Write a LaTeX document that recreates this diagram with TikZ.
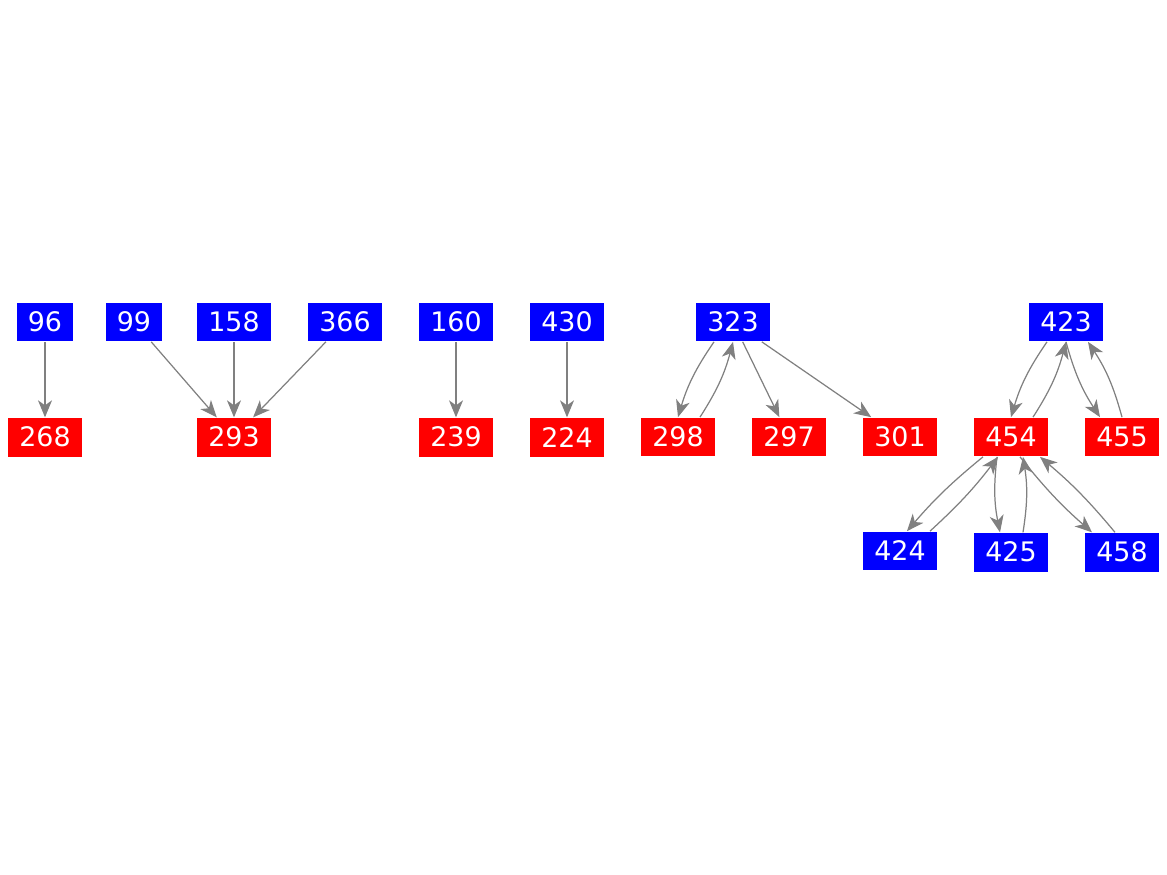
\documentclass[tikz,border=0pt]{standalone}
\usepackage{fontspec}
\setmainfont{DejaVu Sans}
\usetikzlibrary{arrows.meta, positioning}
\tikzstyle{src} = [rectangle, minimum height=0.78cm, inner xsep=0.22cm, text=white, fill=blue, font=\fontsize{15.3}{18}\selectfont]
\tikzstyle{dst} = [src, fill=red]
\tikzstyle{arrow} = [draw=gray, line width=0.7pt, -{Stealth[length=0.34cm, width=0.28cm, inset=0.1cm]}]
\tikzstyle{loop} = [arrow, bend right=9]

\begin{document}
\begin{tikzpicture}[x=0.02cm, y=-0.02cm, node distance=1.51cm]
\useasboundingbox (0,0) rectangle (1167,875);

% Top row
\node (n96) [src] at (45,322) {96};
\node (n99) [src] at (134,322) {99};
\node (n158) [src] at (234,322) {158};
\node (n366) [src] at (345,322) {366};
\node (n160) [src] at (456,322) {160};
\node (n430) [src] at (567,322) {430};
\node (n323) [src] at (733,322) {323};
\node (n423) [src] at (1066,322) {423};

% Middle row
\node (n268) [dst, below=of n96] {268};
\node (n293) [dst, below=of n158] {293};
\node (n239) [dst, below=of n160] {239};
\node (n224) [dst, below=of n430] {224};
\node (n298) [dst] at (678,437) {298};
\node (n297) [dst] at (789,437) {297};
\node (n301) [dst] at (900,437) {301};
\node (n454) [dst] at (1011,437) {454};
\node (n455) [dst] at (1122,437) {455};

% Bottom row
\node (n424) [src] at (900,551) {424};
\node (n425) [src, below=of n454] {425};
\node (n458) [src, below=of n455] {458};

% Arrows
\draw [arrow] (n96) -- (n268);
\draw [arrow] (n99) -- (n293);
\draw [arrow] (n158) -- (n293);
\draw [arrow] (n366) -- (n293);
\draw [arrow] (n160) -- (n239);
\draw [arrow] (n430) -- (n224);
\draw [arrow] (n323) -- (n297);
\draw [arrow] (n323) -- (n301);
\draw [loop] ([xshift=-0.38cm]n323.south) to (n298.north);
\draw [loop] ([xshift=0.44cm]n298.north) to (n323.south);
\draw [loop] ([xshift=-0.38cm]n423.south) to (n454.north);
\draw [loop] ([xshift=0.44cm]n454.north) to (n423.south);
\draw [loop] (n423.south) to ([xshift=-0.44cm]n455.north);
\draw [loop] (n455.north) to ([xshift=0.44cm]n423.south);
\draw [loop, bend right=5] ([xshift=-0.56cm]n454.south) to ([xshift=0.14cm]n424.north);
\draw [loop, bend right=5] ([xshift=0.6cm]n424.north) to ([xshift=-0.26cm]n454.south);
\draw [loop] ([xshift=-0.28cm]n454.south) to ([xshift=-0.22cm]n425.north);
\draw [loop] ([xshift=0.24cm]n425.north) to ([xshift=0.24cm]n454.south);
\draw [loop, bend right=5] ([xshift=0.18cm]n454.south) to ([xshift=-0.6cm]n458.north);
\draw [loop, bend right=5] ([xshift=-0.14cm]n458.north) to ([xshift=0.58cm]n454.south);

\end{tikzpicture}
\end{document}
